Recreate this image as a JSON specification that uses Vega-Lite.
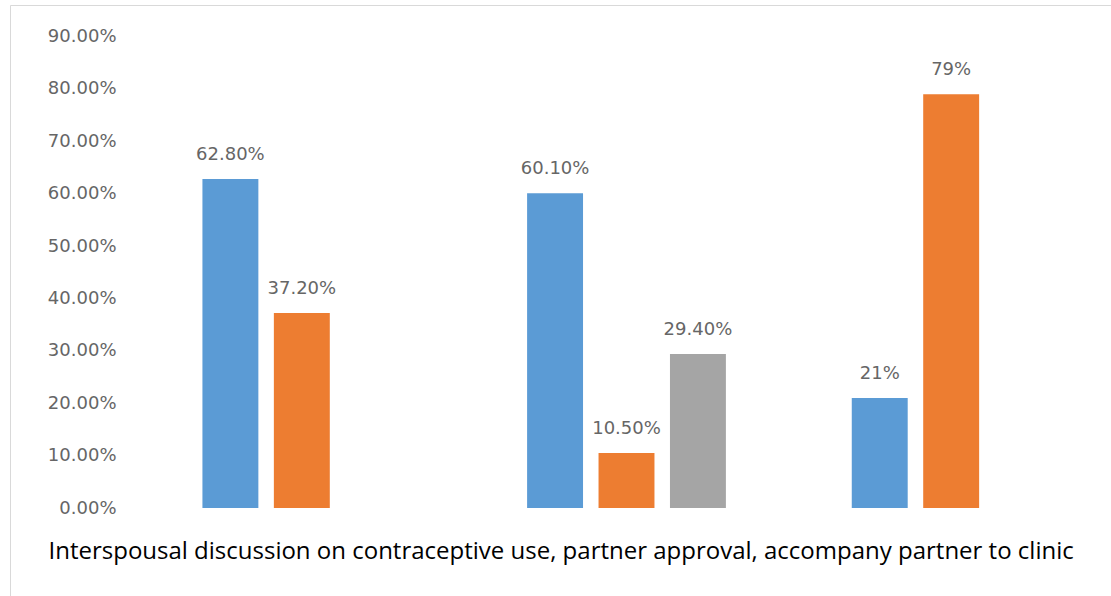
{
  "$schema": "https://vega.github.io/schema/vega-lite/v6.json",
  "description": "Interspousal discussion, partner approval and accompanying partner to clinic, grouped bars.",
  "autosize": {"type": "none"},
  "padding": {"left": 10, "top": 5, "right": 0, "bottom": 0},
  "width": 1110,
  "height": 600,
  "data": {
    "values": [
      {"group": "Interspousal discussion on contraceptive use", "series": "Series 1", "value": 0.628, "label": "62.80%"},
      {"group": "Interspousal discussion on contraceptive use", "series": "Series 2", "value": 0.372, "label": "37.20%"},
      {"group": "Partner approval", "series": "Series 1", "value": 0.601, "label": "60.10%"},
      {"group": "Partner approval", "series": "Series 2", "value": 0.105, "label": "10.50%"},
      {"group": "Partner approval", "series": "Series 3", "value": 0.294, "label": "29.40%"},
      {"group": "Accompany partner to clinic", "series": "Series 1", "value": 0.21, "label": "21%"},
      {"group": "Accompany partner to clinic", "series": "Series 2", "value": 0.79, "label": "79%"}
    ]
  },
  "encoding": {
    "x": {
      "field": "group",
      "type": "nominal",
      "sort": null,
      "scale": {"range": [129.5, 1103.5], "paddingInner": 0, "paddingOuter": 0},
      "axis": {
        "title": "Interspousal discussion on contraceptive use, partner approval, accompany partner to clinic",
        "labels": false,
        "ticks": false,
        "domain": false,
        "titleFont": "Open Sans",
        "titleFontSize": 24,
        "titleFontWeight": "normal",
        "titleColor": "#000000",
        "titleAlign": "left",
        "titleAnchor": "start",
        "titleBaseline": "alphabetic",
        "titleX": 38,
        "titleY": -47
      }
    },
    "xOffset": {
      "field": "series",
      "type": "nominal",
      "scale": {"paddingInner": 0.217, "paddingOuter": 0.881}
    },
    "y": {
      "field": "value",
      "type": "quantitative",
      "scale": {"domain": [-0.18515, 0.96013], "nice": false, "zero": false},
      "axis": {
        "title": null,
        "values": [0, 0.1, 0.2, 0.3, 0.4, 0.5, 0.6, 0.7, 0.8, 0.9],
        "format": ".2%",
        "grid": false,
        "domain": false,
        "ticks": false,
        "tickSize": 0,
        "labelPadding": 0,
        "offset": -106,
        "labelFont": "DejaVu Sans",
        "labelFontSize": 18,
        "labelColor": "#666666",
        "labelAlign": "right",
        "labelBaseline": "middle"
      }
    },
    "color": {
      "field": "series",
      "type": "nominal",
      "scale": {"domain": ["Series 1", "Series 2", "Series 3"], "range": ["#5B9BD5", "#ED7D31", "#A5A5A5"]},
      "legend": null
    }
  },
  "layer": [
    {
      "mark": {"type": "bar"},
      "encoding": {"y2": {"datum": 0}}
    },
    {
      "mark": {"type": "text", "baseline": "middle", "align": "center", "dy": -24, "font": "DejaVu Sans", "fontSize": 18, "color": "#666666"},
      "encoding": {"text": {"field": "label"}, "color": {"value": "#666666"}}
    }
  ],
  "config": {
    "view": {"stroke": "#d9d9d9", "strokeWidth": 1}
  }
}
